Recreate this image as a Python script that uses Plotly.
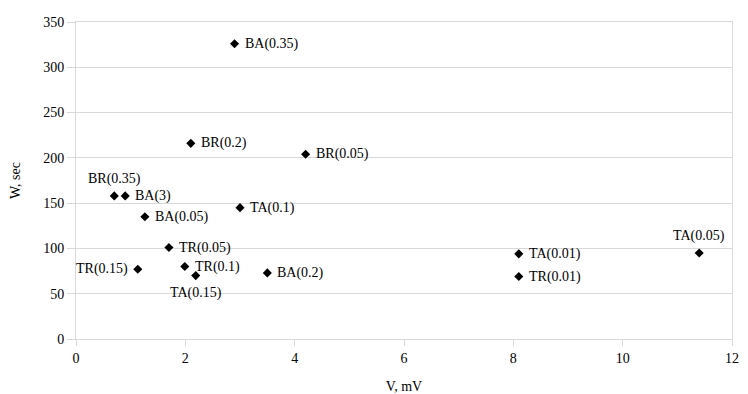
import plotly.graph_objects as go

# V (mV) and W (sec) for each sample
labels = ['BA(0.35)', 'BR(0.2)', 'BR(0.05)', 'BR(0.35)', 'BA(3)', 'BA(0.05)',
          'TA(0.1)', 'TR(0.05)', 'TR(0.15)', 'TR(0.1)', 'TA(0.15)', 'BA(0.2)',
          'TA(0.01)', 'TR(0.01)', 'TA(0.05)']
v_mv = [2.9, 2.1, 4.2, 0.7, 0.9, 1.26, 3.0, 1.7, 1.13, 1.99, 2.19, 3.5, 8.1, 8.1, 11.4]
w_sec = [326, 216, 204, 158, 158, 135, 145, 101, 77, 80, 70, 73, 94, 69, 95]
label_side = ['right', 'right', 'right', 'above', 'right', 'right', 'right', 'right',
              'left', 'right', 'below', 'right', 'right', 'right', 'above']

x_ticks = [0, 2, 4, 6, 8, 10, 12]
y_ticks = [0, 50, 100, 150, 200, 250, 300, 350]

grid = '#d9d9d9'
font = dict(family='Liberation Serif', size=14, color='black')

# where each label sits relative to its marker
side_style = {
    'right': dict(xanchor='left', yanchor='middle', xshift=8, yshift=0),
    'left': dict(xanchor='right', yanchor='middle', xshift=-8, yshift=0),
    'above': dict(xanchor='center', yanchor='middle', xshift=0, yshift=17),
    'below': dict(xanchor='center', yanchor='middle', xshift=0, yshift=-17),
}

fig = go.Figure()
fig.add_trace(go.Scatter(
    x=v_mv,
    y=w_sec,
    mode='markers',
    marker=dict(symbol='diamond', size=7, color='black', line=dict(width=0)),
    showlegend=False,
    cliponaxis=False,
))

for x, y, txt, side in zip(v_mv, w_sec, labels, label_side):
    fig.add_annotation(x=x, y=y, text=txt, showarrow=False, font=font,
                       **side_style[side])

fig.update_xaxes(
    range=[0, 12],
    tickvals=x_ticks,
    showgrid=False,
    zeroline=False,
    showline=True,
    mirror=True,
    linecolor=grid,
    ticks='outside',
    ticklen=6,
    tickcolor=grid,
    tickfont=font,
    automargin=False,
    title=dict(text='V, mV', font=font, standoff=21),
)
fig.update_yaxes(
    range=[0, 350],
    tickvals=y_ticks,
    showgrid=True,
    gridcolor=grid,
    zeroline=False,
    showline=True,
    mirror=True,
    linecolor=grid,
    ticks='outside',
    ticklen=8,
    tickcolor=grid,
    tickfont=font,
    automargin=False,
    title=dict(text='W, sec', font=font, standoff=27),
)

# the page body adds an 8px offset, so the figure is a little smaller
fig.update_layout(
    width=740,
    height=386,
    margin=dict(l=68, r=16, t=14, b=55),
    plot_bgcolor='white',
    paper_bgcolor='white',
    font=font,
)

fig.write_html("out.html")
